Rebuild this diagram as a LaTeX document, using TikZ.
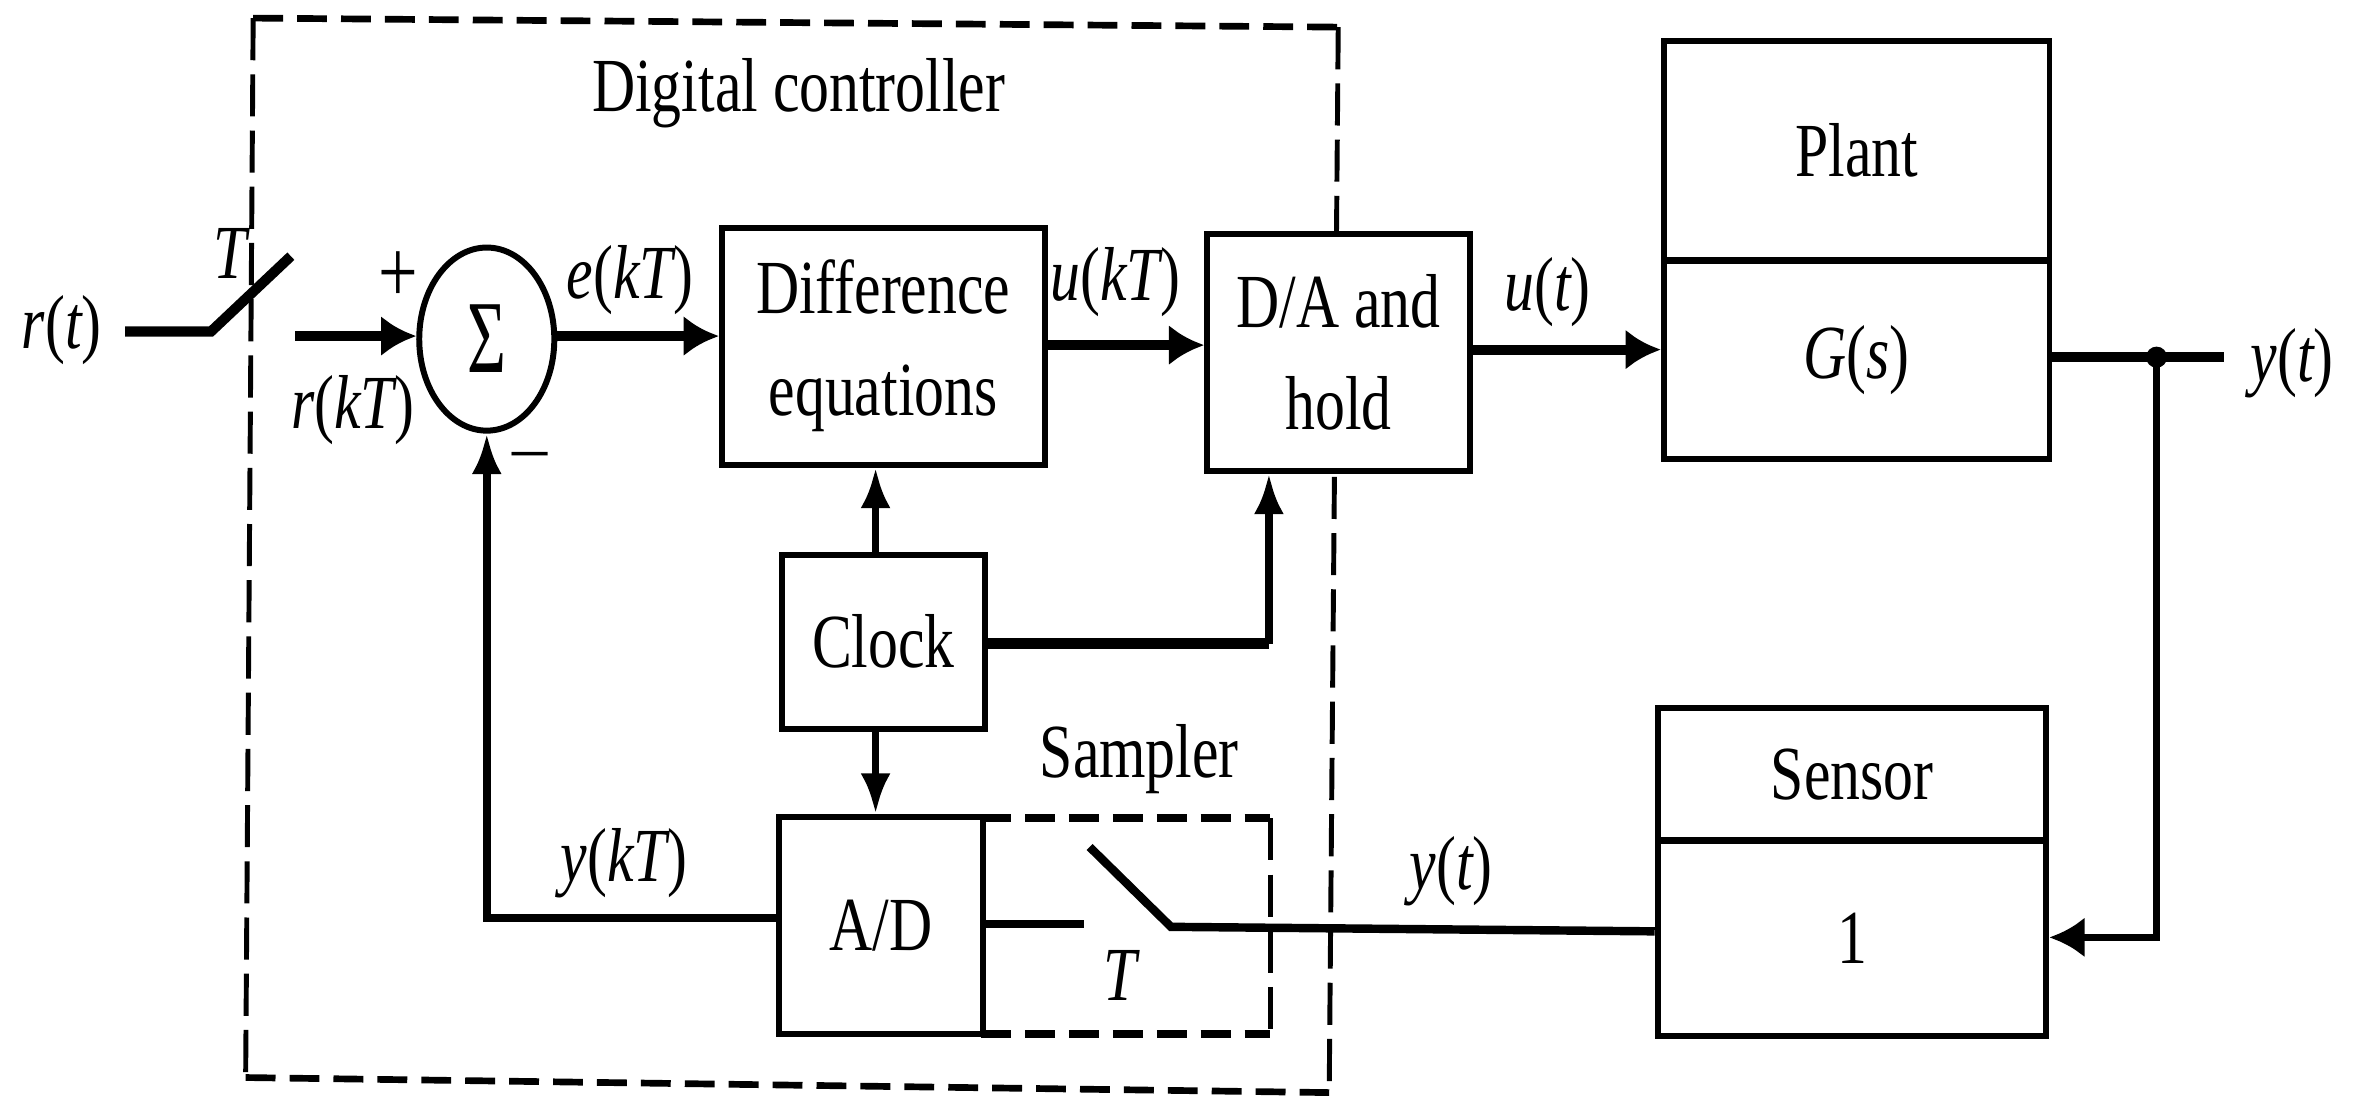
\documentclass[tikz,border=0pt]{standalone}
\usepackage{fontspec}
\usepackage{graphicx}
\setmainfont{Liberation Serif}
\usetikzlibrary{arrows.meta,shapes.geometric}
\newcommand{\tl}[1]{\scalebox{1}[1.28]{#1}}
\begin{document}
\begin{tikzpicture}[x=0.01507cm,y=-0.01507cm,
  blockbox/.style={draw,line width=1.7pt,inner sep=0pt,align=center,font=\fontsize{17}{24}\selectfont,anchor=north west},
  txt/.style={font=\fontsize{17}{24}\selectfont,inner sep=0pt},
  wire/.style={line width=2.4pt},
  hsig/.style={line width=2.9pt,-{Latex[length=10pt,width=11.5pt]}},
  vsig/.style={line width=2.2pt,-{Latex[length=11.5pt,width=8.5pt]}},
  hframe/.style={line width=1.9pt,dash pattern=on 8.5pt off 4pt},
  vframe/.style={line width=1.4pt,dash pattern=on 12pt off 4pt}]
\useasboundingbox (0,0) rectangle (1568,729);
\fill[white] (0,0) rectangle (1568,729);
% dashed frames
\coordinate (fa) at (168,12);
\coordinate (fb) at (888,18);
\coordinate (fc) at (882,725);
\coordinate (fd) at (163,715);
\draw[hframe] (fa) -- (fb);
\draw[vframe] (fb) -- (fc);
\draw[hframe] (fd) -- (fc);
\draw[vframe] (fa) -- (fd);
% blocks
\node[blockbox,minimum width=215pt*0.4272,minimum height=158pt*0.4272] (diff) at (477,149) {\tl{Difference}\\[5pt]\tl{equations}};
\node[blockbox,minimum width=175pt*0.4272,minimum height=158pt*0.4272,fill=white] (da) at (799,153) {\tl{D/A and}\\[5pt]\tl{hold}};
\node[blockbox,minimum width=257pt*0.4272,minimum height=146pt*0.4272] (plant) at (1102,25) {\tl{Plant}};
\node[blockbox,minimum width=257pt*0.4272,minimum height=132pt*0.4272] (gs) at (1102,171) {\tl{\itshape G\upshape(\itshape s\upshape)}};
\node[blockbox,minimum width=135pt*0.4272,minimum height=116pt*0.4272] (clock) at (517,366) {\tl{Clock}};
\node[blockbox,minimum width=136pt*0.4272,minimum height=145pt*0.4272] (ad) at (515,540) {\tl{A/D}};
\node[blockbox,minimum width=259pt*0.4272,minimum height=88pt*0.4272] (sensor) at (1098,468) {\tl{Sensor}};
\node[blockbox,minimum width=259pt*0.4272,minimum height=130pt*0.4272] (one) at (1098,556) {\tl{1}};
\node[draw,ellipse,line width=1.7pt,minimum width=90pt*0.4272,minimum height=122pt*0.4272,inner sep=0pt,font=\fontsize{19}{24}\selectfont] (sum) at (323,225) {\scalebox{1}[1.55]{Σ}};
% sampler box
\coordinate (sa) at (651,543);
\coordinate (sb) at (843,543);
\coordinate (sc) at (843,686);
\coordinate (sd) at (651,686);
\draw[hframe,line width=2.2pt] (sa) -- (sb);
\draw[vframe] (sb) -- (sc);
\draw[hframe,line width=2.2pt] (sd) -- (sc);
% labels
\node[txt] (l1) at (530,62) {\tl{Digital controller}};
\node[txt] (l2) at (756,504) {\tl{Sampler}};
\node[txt] (rt) at (41,219) {\tl{\itshape r\upshape(\itshape t\upshape)}};
\node[txt] (T1) at (153,168) {\tl{\itshape T}};
\node[txt] (rk) at (234,272) {\tl{\itshape r\upshape(\itshape kT\upshape)}};
\node[txt,font=\fontsize{20}{24}\selectfont] (plus) at (264,184) {\tl{+}};
\node[txt,font=\fontsize{20}{24}\selectfont] (minus) at (352,306) {–};
\node[txt] (ek) at (418,186) {\tl{\itshape e\upshape(\itshape kT\upshape)}};
\node[txt] (uk) at (740,187) {\tl{\itshape u\upshape(\itshape kT\upshape)}};
\node[txt] (ut) at (1027,194) {\tl{\itshape u\upshape(\itshape t\upshape)}};
\node[txt] (yt) at (1521,241) {\tl{\itshape y\upshape(\itshape t\upshape)}};
\node[txt] (yk) at (414,573) {\tl{\itshape y\upshape(\itshape kT\upshape)}};
\node[txt] (T2) at (743,647) {\tl{\itshape T}};
\node[txt] (yt2) at (963,578) {\tl{\itshape y\upshape(\itshape t\upshape)}};
% input switch
\coordinate (s1) at (83,220);
\coordinate (s2) at (140,220);
\coordinate (s3) at (193,170);
\coordinate (s4) at (196,223);
\draw[wire,line width=2.9pt] (s1) -- (s2) -- (s3);
\draw[hsig] (s4) -- (sum.west |- s4);
% forward path
\draw[hsig] (sum.east |- s4) -- (diff.west |- s4);
\draw[hsig] (diff.east |- 0,229) -- (da.west |- 0,229);
\draw[hsig] (da.east |- 0,232) -- (gs.west |- 0,232);
\coordinate (jn) at (1431,237);
\coordinate (yend) at (1476,237);
\draw[wire,line width=2.9pt] (gs.east |- jn) -- (yend);
\fill (jn) circle (7);
\draw[vsig,-{Latex[length=10pt,width=11.5pt]}] (jn) -- (1431,622) -- (one.east |- 0,622);
% clock
\coordinate (ck) at (842,427);
\draw[vsig] (clock.north -| 581,0) -- (diff.south -| 581,0);
\draw[wire,line width=2.9pt] (clock.east |- ck) -- (ck);
\draw[vsig] (ck) -- (da.south -| ck);
\draw[vsig] (clock.south -| 581,0) -- (ad.north -| 581,0);
% feedback
\coordinate (s5) at (719,613);
\coordinate (s6) at (723,562);
\coordinate (s7) at (777,615);
\draw[wire] (ad.east |- s5) -- (s5);
\draw[wire] (s6) -- (s7) -- (one.west |- 0,618);
\draw[vsig] (ad.west |- 0,609) -- (sum.south |- 0,609) -- (sum.south);
\end{tikzpicture}
\end{document}
